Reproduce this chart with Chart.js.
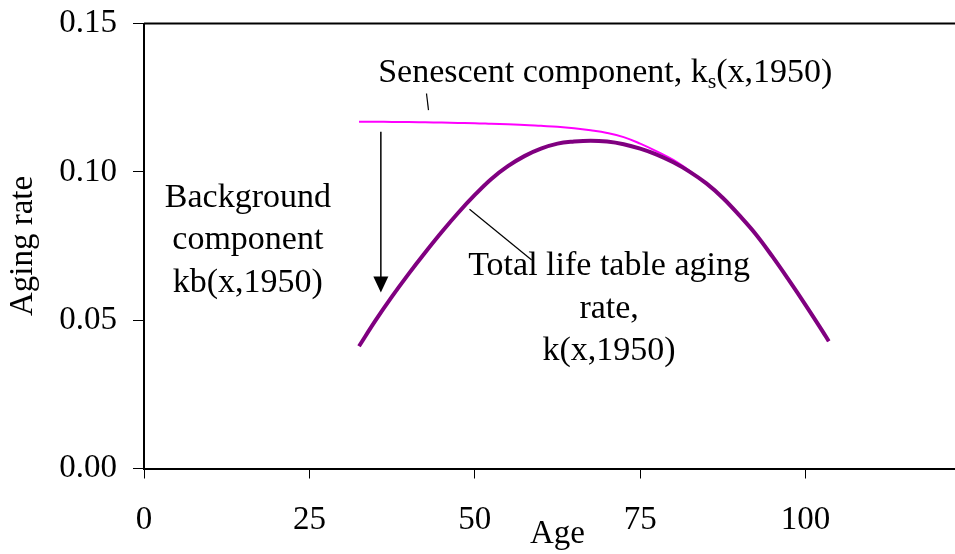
<!DOCTYPE html>
<html>
<head>
<meta charset="utf-8">
<script src="https://cdn.jsdelivr.net/npm/chart.js@4/dist/chart.umd.min.js"></script>
<style>
  html, body { margin: 0; padding: 0; overflow: hidden; background: #fff; }
  #wrap { width: 972px; height: 554px; }
</style>
</head>
<body>
<div id="wrap"><canvas id="c" width="972" height="554"></canvas></div>
<script>
// ---- data ----
const ages = [32.5, 35, 37.5, 40, 42.5, 45, 47.5, 50, 52.5, 55, 57.5, 60, 62.5, 65, 67.5,
              70, 72.5, 75, 77.5, 80, 82.5, 85, 87.5, 90, 92.5, 95, 97.5, 100, 102.5, 103.5];
const totalRate = [0.0412, 0.0499, 0.0580, 0.0656, 0.0728, 0.0797, 0.0862, 0.0922, 0.0976, 0.1019,
                   0.1053, 0.1078, 0.1095, 0.1102, 0.1105, 0.1102, 0.1093, 0.1078, 0.1058, 0.1032,
                   0.1000, 0.0961, 0.0912, 0.0853, 0.0789, 0.0714, 0.0634, 0.0551, 0.0465, 0.0429];
const senescentRate = [0.1169, 0.1169, 0.1168, 0.1168, 0.1167, 0.1166, 0.1165, 0.1164, 0.1162, 0.1160,
                       0.1158, 0.1155, 0.1152, 0.1147, 0.1140, 0.1131, 0.1117, 0.1095, 0.1069, 0.1040,
                       0.1003, 0.0961, 0.0912, 0.0853, 0.0789, 0.0714, 0.0634, 0.0551, 0.0465, 0.0429];
const xTicks = [0, 25, 50, 75, 100];
const yTicks = [0.00, 0.05, 0.10, 0.15];
const xTitle = 'Age';
const yTitle = 'Aging rate';
const seriesNames = ['Total life table aging rate, k(x,1950)', 'Senescent component, ks(x,1950)'];

// annotation anchors in data units
const senescentLabel = { x: 35.4, y: 0.1304, parts: ['Senescent component, k', 's', '(x,1950)'] };
const senescentLeader = [[42.7, 0.1264], [43.0, 0.1208]];
const backgroundLabel = { x: 15.7, y: 0.0883, lines: ['Background', 'component', 'kb(x,1950)'] };
const backgroundArrow = [[35.8, 0.1135], [35.8, 0.0593]];
const totalLabel = { x: 70.3, y: 0.0652, lines: ['Total life table aging', 'rate,', 'k(x,1950)'] };
const totalLeader = [[49.2, 0.0874], [58.6, 0.0703]];

const FONT = '"Liberation Serif", "Times New Roman", serif';

const annotations = {
  id: 'annotations',
  afterDatasetsDraw(chart) {
    const { ctx, chartArea: a, scales: { x, y } } = chart;
    const X = v => x.getPixelForValue(v), Y = v => y.getPixelForValue(v);
    ctx.save();
    // top / right frame
    ctx.strokeStyle = '#000'; ctx.lineWidth = 2;
    ctx.beginPath();
    ctx.moveTo(a.left, a.top); ctx.lineTo(a.right, a.top); ctx.lineTo(a.right, a.bottom);
    ctx.stroke();

    // leader lines
    ctx.lineWidth = 1.2;
    [senescentLeader, totalLeader].forEach(l => {
      ctx.beginPath();
      ctx.moveTo(X(l[0][0]), Y(l[0][1])); ctx.lineTo(X(l[1][0]), Y(l[1][1]));
      ctx.stroke();
    });

    // arrow
    const ax = X(backgroundArrow[0][0]);
    const ay0 = Y(backgroundArrow[0][1]), ay1 = Y(backgroundArrow[1][1]);
    const head = 16, hw = 7.5;
    ctx.lineWidth = 1.5;
    ctx.beginPath(); ctx.moveTo(ax, ay0); ctx.lineTo(ax, ay1 - head + 1); ctx.stroke();
    ctx.fillStyle = '#000';
    ctx.beginPath();
    ctx.moveTo(ax - hw, ay1 - head); ctx.lineTo(ax + hw, ay1 - head); ctx.lineTo(ax, ay1);
    ctx.closePath(); ctx.fill();

    // texts
    ctx.fillStyle = '#000';
    ctx.textBaseline = 'alphabetic';
    ctx.font = '34px ' + FONT;
    ctx.textAlign = 'left';
    let sx = X(senescentLabel.x); const sy = Y(senescentLabel.y);
    ctx.fillText(senescentLabel.parts[0], sx, sy);
    sx += ctx.measureText(senescentLabel.parts[0]).width;
    ctx.font = '22px ' + FONT;
    ctx.fillText(senescentLabel.parts[1], sx, sy + 6.5);
    sx += ctx.measureText(senescentLabel.parts[1]).width;
    ctx.font = '34px ' + FONT;
    ctx.fillText(senescentLabel.parts[2], sx, sy);

    ctx.textAlign = 'center';
    const lh = 42.5;
    [backgroundLabel, totalLabel].forEach(t => {
      const cx = X(t.x), by = Y(t.y);
      t.lines.forEach((s, i) => ctx.fillText(s, cx, by + i * lh));
    });
    ctx.restore();
  }
};

new Chart(document.getElementById('c'), {
  type: 'line',
  data: {
    datasets: [
      {
        label: seriesNames[0],
        data: ages.map((a, i) => ({ x: a, y: totalRate[i] })),
        borderColor: '#800080', borderWidth: 4, pointRadius: 0,
        tension: 0.4, fill: false, order: 0
      },
      {
        label: seriesNames[1],
        data: ages.map((a, i) => ({ x: a, y: senescentRate[i] })),
        borderColor: '#FF00FF', borderWidth: 2, pointRadius: 0,
        tension: 0.4, fill: false, order: 1
      }
    ]
  },
  options: {
    responsive: false,
    devicePixelRatio: 1,
    animation: false,
    layout: { padding: { top: 23.5, right: 1, left: 0, bottom: 0 } },
    plugins: { legend: { display: false }, tooltip: { enabled: false } },
    scales: {
      x: {
        type: 'linear', min: 0, max: 125,
        afterBuildTicks: s => { s.ticks = xTicks.map(v => ({ value: v })); },
        afterFit: s => { s.height = 85.5; s.paddingLeft = 0; s.paddingRight = 0; s.paddingTop = 0; s.paddingBottom = 0; },
        ticks: { color: '#000', font: { family: FONT, size: 33 }, padding: 22, maxRotation: 0,
                 callback: v => String(v) },
        grid: { drawOnChartArea: false, drawTicks: true, tickLength: 10, color: '#000', lineWidth: 1 },
        border: { display: true, color: '#000', width: 2 },
        title: { display: true, text: xTitle, color: '#000', font: { family: FONT, size: 33 },
                 padding: { top: 0, bottom: 0 } }
      },
      y: {
        type: 'linear', min: 0, max: 0.15,
        afterBuildTicks: s => { s.ticks = yTicks.map(v => ({ value: v })); },
        afterFit: s => { s.width = 144; s.paddingLeft = 0; s.paddingRight = 0; s.paddingTop = 0; s.paddingBottom = 0; },
        ticks: { color: '#000', font: { family: FONT, size: 33 }, padding: 16,
                 callback: v => Number(v).toFixed(2) },
        grid: { drawOnChartArea: false, drawTicks: true, tickLength: 11, color: '#000', lineWidth: 1 },
        border: { display: true, color: '#000', width: 2 },
        title: { display: true, text: yTitle, color: '#000', font: { family: FONT, size: 33 },
                 padding: { top: 4, bottom: 0 } }
      }
    }
  },
  plugins: [annotations]
});
</script>
</body>
</html>
